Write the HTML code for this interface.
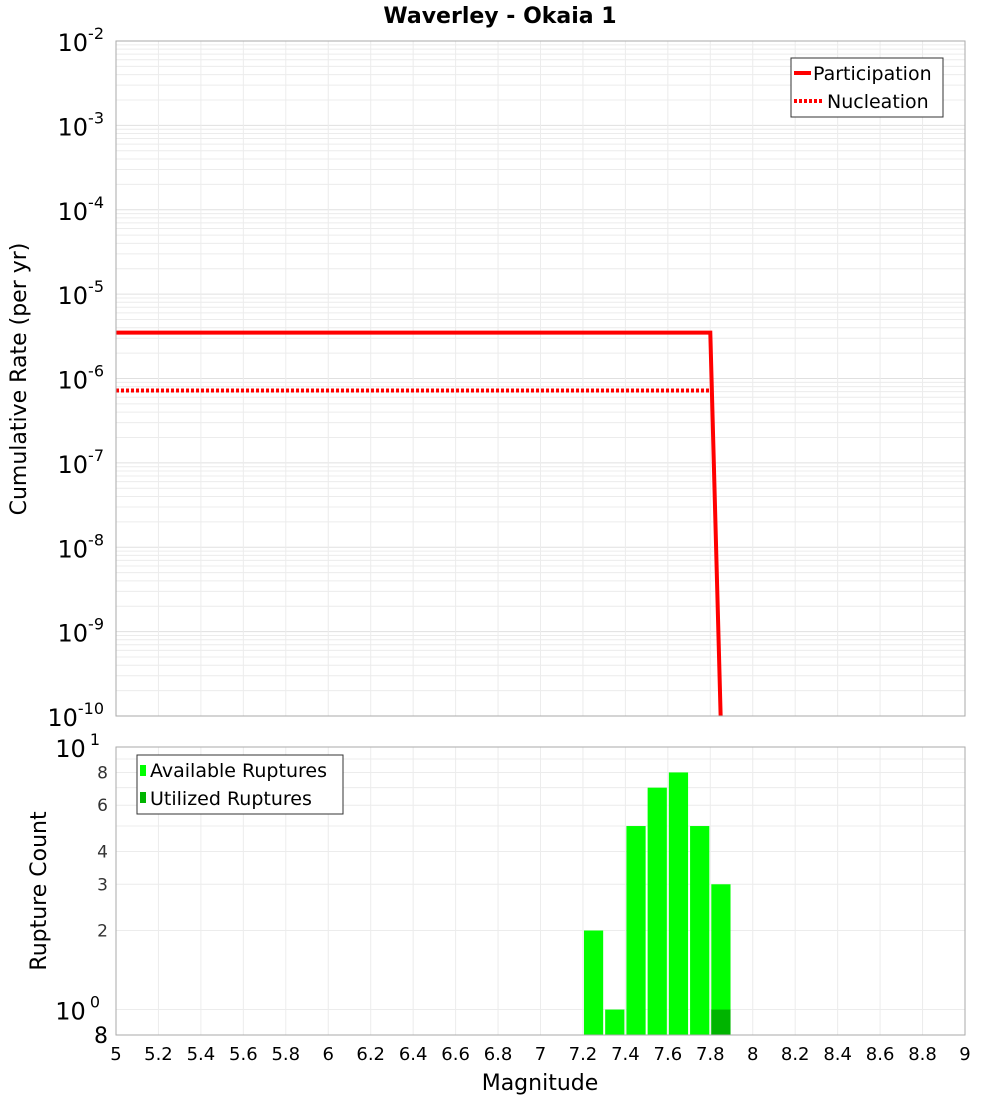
<!DOCTYPE html>
<html><head><meta charset="utf-8"><style>
body{margin:0;background:#fff;}
svg{display:block;font-family:"DejaVu Sans","Liberation Sans",sans-serif;}
</style></head><body>
<svg id="chart" width="1000" height="1100">
<text x="500" y="23" text-anchor="middle" font-size="22" font-weight="bold">Waverley - Okaia 1</text>
<g id="topPlot"></g>
<g id="botPlot"></g>
</svg>
<script>
const mfdX = [5, 7.8, 7.85];
const participation = [3.5e-6, 3.5e-6, 1e-11];
const nucleation = [7.2e-7, 7.2e-7];
const nucleationX = [5, 7.8];
const binStarts = [7.2, 7.3, 7.4, 7.5, 7.6, 7.7, 7.8];
const available = [2, 1, 5, 7, 8, 5, 3];
const utilized = [0, 0, 0, 0, 0, 0, 1];
const xTicks = [5,5.2,5.4,5.6,5.8,6,6.2,6.4,6.6,6.8,7,7.2,7.4,7.6,7.8,8,8.2,8.4,8.6,8.8,9];
const topExp = [-10,-9,-8,-7,-6,-5,-4,-3,-2];
const botTicks = [2,3,4,6,8];

const NS="http://www.w3.org/2000/svg";
function mk(p,tag,a,txt){const e=document.createElementNS(NS,tag);for(const k in a)e.setAttribute(k,a[k]);if(txt!=null)e.textContent=txt;p.appendChild(e);return e;}
const L=116,R=965;
const x=v=>L+(v-5)/(9-5)*(R-L);
const T0=41,T1=716;
const yT=v=>T1-(Math.log10(v)+10)/8*(T1-T0);
const B0=747,B1=1035;
const yB=v=>B1-(Math.log10(v)-Math.log10(0.8))/(1-Math.log10(0.8))*(B1-B0);
const topG=document.getElementById('topPlot'), botG=document.getElementById('botPlot');

for(let e=-10;e<-2;e++)for(let m=1;m<10;m++){const y=yT(m*Math.pow(10,e));
 const g=mk(topG,'line',{x1:L,x2:R,y1:y,y2:y,stroke:m==1?'#e0e0e0':'#ececec','stroke-width':1});
 
 }
xTicks.forEach(t=>{const g=mk(topG,'line',{x1:x(t),x2:x(t),y1:T0,y2:T1,stroke:'#ececec'});
 
 
 const h=mk(botG,'line',{x1:x(t),x2:x(t),y1:B0,y2:B1,stroke:'#ececec'});
 
 });
topExp.forEach(e=>{const y=yT(Math.pow(10,e));
 const t=mk(topG,'text',{x:104,y:y+10,'text-anchor':'end','font-size':24});
 
 
 mk(t,'tspan',{},'10');mk(t,'tspan',{dy:-12,'font-size':16},String(e));});
let d=mfdX.map((v,i)=>(i?'L':'M')+x(v)+','+Math.min(yT(participation[i]),T1+10)).join('');
const cp=mk(topG,'clipPath',{id:'ct'});mk(cp,'rect',{x:L,y:T0,width:R-L,height:T1-T0});
const pl=mk(topG,'path',{d:d,fill:'none',stroke:'#f00','stroke-width':4,'clip-path':'url(#ct)'});


d=nucleationX.map((v,i)=>(i?'L':'M')+x(v)+','+yT(nucleation[i])).join('');
const nl=mk(topG,'path',{d:d,fill:'none',stroke:'#f00','stroke-width':4,'stroke-dasharray':'3,2'});


const pb=mk(topG,'rect',{x:L,y:T0,width:R-L,height:T1-T0,fill:'none',stroke:'#aaa'});


const lg=mk(topG,'g',{});


mk(lg,'rect',{x:791,y:58,width:152,height:59,fill:'#fff',stroke:'#333'});
mk(lg,'line',{x1:794,x2:811,y1:73,y2:73,stroke:'#f00','stroke-width':4});
mk(lg,'text',{x:813,y:80,'font-size':19},'Participation');
mk(lg,'line',{x1:794,x2:822,y1:101,y2:101,stroke:'#f00','stroke-width':4,'stroke-dasharray':'3,2'});
mk(lg,'text',{x:827,y:108,'font-size':19},'Nucleation');
const yl=mk(topG,'text',{x:0,y:0,transform:'translate(26,379) rotate(-90)','text-anchor':'middle','font-size':22},'Cumulative Rate (per yr)');



[1,2,3,4,5,6,7,8,9].forEach(v=>{const y=yB(v);const g=mk(botG,'line',{x1:L,x2:R,y1:y,y2:y,stroke:'#ececec'});
 
 });
botTicks.forEach(v=>{const t=mk(botG,'text',{x:108,y:yB(v)+6,'text-anchor':'end','font-size':17,fill:'#333'},String(v));
 
 });
[[10,'1'],[1,'0']].forEach(([v,e])=>{const t=mk(botG,'text',{x:100,y:yB(v)+10,'text-anchor':'end','font-size':24});
 
 
 mk(t,'tspan',{},'10');mk(t,'tspan',{dy:-12,'font-size':16,dx:4},e);});
const e8=mk(botG,'text',{x:108,y:1043,'text-anchor':'end','font-size':22},'8');


binStarts.forEach((s,i)=>{
 const b=mk(botG,'rect',{x:x(s)+1,y:yB(available[i]),width:x(s+0.1)-x(s)-2,height:B1-yB(available[i]),fill:'#00ff00'});
 
 
 if(utilized[i]>0){const u=mk(botG,'rect',{x:x(s)+1,y:yB(utilized[i]),width:x(s+0.1)-x(s)-2,height:B1-yB(utilized[i]),fill:'#00b400'});
 
 }
});
const pb2=mk(botG,'rect',{x:L,y:B0,width:R-L,height:B1-B0,fill:'none',stroke:'#aaa'});


xTicks.forEach(t=>{const e=mk(botG,'text',{x:x(t),y:1060,'text-anchor':'middle','font-size':18},String(t));
 
 });
const bl=mk(botG,'g',{});


mk(bl,'rect',{x:137,y:755,width:206,height:59,fill:'#fff',stroke:'#333'});
mk(bl,'rect',{x:140,y:765,width:6,height:11,fill:'#00ff00'});
mk(bl,'text',{x:150,y:777,'font-size':19},'Available Ruptures');
mk(bl,'rect',{x:140,y:792,width:6,height:11,fill:'#00b400'});
mk(bl,'text',{x:150,y:805,'font-size':19},'Utilized Ruptures');
const by=mk(botG,'text',{x:0,y:0,transform:'translate(46,891) rotate(-90)','text-anchor':'middle','font-size':22},'Rupture Count');


const xt=mk(botG,'text',{x:540,y:1090,'text-anchor':'middle','font-size':22},'Magnitude');


</script>
</body></html>
